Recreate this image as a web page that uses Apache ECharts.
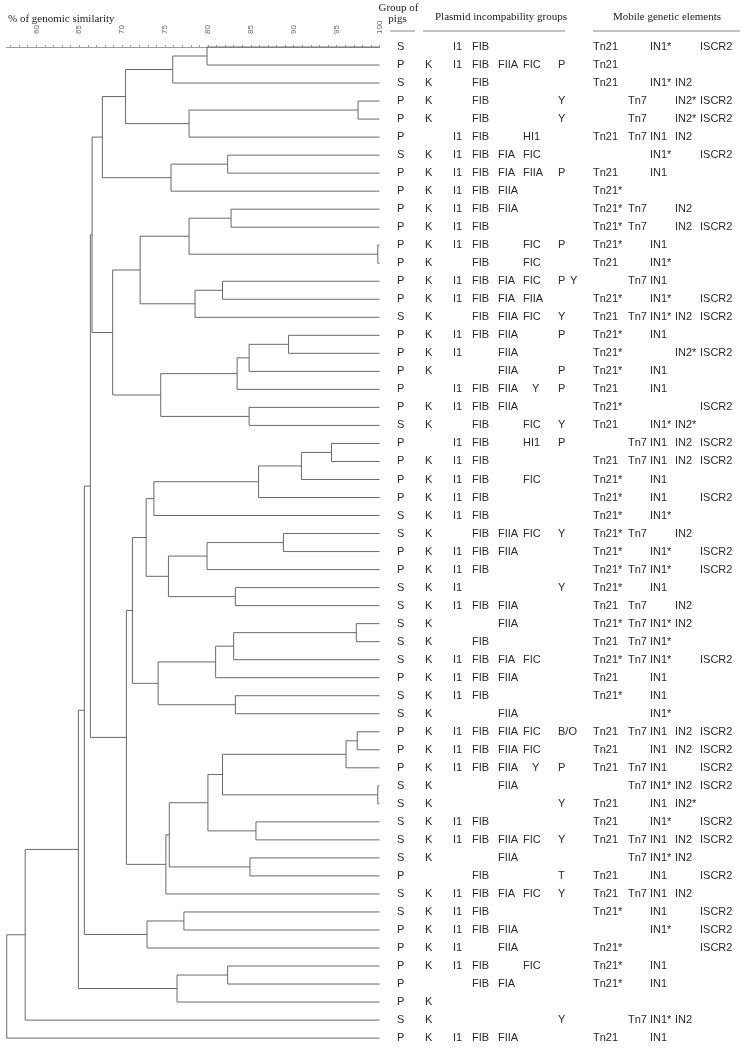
<!DOCTYPE html>
<html><head><meta charset="utf-8">
<script src="https://cdn.jsdelivr.net/npm/echarts@6/dist/echarts.min.js"></script>
<style>html,body{margin:0;padding:0;background:#fff}#c{width:747px;height:1049px}</style>
</head><body><div id="c"></div>
<script>
// ---------- DATA ----------
const pigGroup = ['S','P','S','P','P','P','S','P','P','P','P','P','P','P','P','S','P','P','P','P','P','S','P','P','P','P','S','S','P','P','S','S','S','S','S','P','S','S','P','P','P','S','S','S','S','S','P','S','S','P','P','P','P','P','S','P'];

// plasmid fields: K | I1 | FIB | F-a | F-b | F-b' | P/Y/T/B/O | Y
const plasmidRows = [
"|I1|FIB|||||","K|I1|FIB|FIIA|FIC||P|","K||FIB|||||","K||FIB||||Y|","K||FIB||||Y|",
"|I1|FIB||HI1|||","K|I1|FIB|FIA|FIC|||","K|I1|FIB|FIA|FIIA||P|","K|I1|FIB|FIIA||||","K|I1|FIB|FIIA||||",
"K|I1|FIB|||||","K|I1|FIB||FIC||P|","K||FIB||FIC|||","K|I1|FIB|FIA|FIC||P|Y","K|I1|FIB|FIA|FIIA|||",
"K||FIB|FIIA|FIC||Y|","K|I1|FIB|FIIA|||P|","K|I1||FIIA||||","K|||FIIA|||P|","|I1|FIB|FIIA||Y|P|",
"K|I1|FIB|FIIA||||","K||FIB||FIC||Y|","|I1|FIB||HI1||P|","K|I1|FIB|||||","K|I1|FIB||FIC|||",
"K|I1|FIB|||||","K|I1|FIB|||||","K||FIB|FIIA|FIC||Y|","K|I1|FIB|FIIA||||","K|I1|FIB|||||",
"K|I1|||||Y|","K|I1|FIB|FIIA||||","K|||FIIA||||","K||FIB|||||","K|I1|FIB|FIA|FIC|||",
"K|I1|FIB|FIIA||||","K|I1|FIB|||||","K|||FIIA||||","K|I1|FIB|FIIA|FIC||B/O|","K|I1|FIB|FIIA|FIC|||",
"K|I1|FIB|FIIA||Y|P|","K|||FIIA||||","K||||||Y|","K|I1|FIB|||||","K|I1|FIB|FIIA|FIC||Y|",
"K|||FIIA||||","||FIB||||T|","K|I1|FIB|FIA|FIC||Y|","K|I1|FIB|||||","K|I1|FIB|FIIA||||",
"K|I1||FIIA||||","K|I1|FIB||FIC|||","||FIB|FIA||||","K|||||||","K||||||Y|",
"K|I1|FIB|FIIA||||"
];

// mobile fields: Tn21 | Tn7 | IN1 | IN2 | ISCR2
const mobileRows = [
"Tn21||IN1*||ISCR2","Tn21||||","Tn21||IN1*|IN2|","|Tn7||IN2*|ISCR2","|Tn7||IN2*|ISCR2",
"Tn21|Tn7|IN1|IN2|","||IN1*||ISCR2","Tn21||IN1||","Tn21*||||","Tn21*|Tn7||IN2|",
"Tn21*|Tn7||IN2|ISCR2","Tn21*||IN1||","Tn21||IN1*||","|Tn7|IN1||","Tn21*||IN1*||ISCR2",
"Tn21|Tn7|IN1*|IN2|ISCR2","Tn21*||IN1||","Tn21*|||IN2*|ISCR2","Tn21*||IN1||","Tn21||IN1||",
"Tn21*||||ISCR2","Tn21||IN1*|IN2*|","|Tn7|IN1|IN2|ISCR2","Tn21|Tn7|IN1|IN2|ISCR2","Tn21*||IN1||",
"Tn21*||IN1||ISCR2","Tn21*||IN1*||","Tn21*|Tn7||IN2|","Tn21*||IN1*||ISCR2","Tn21*|Tn7|IN1*||ISCR2",
"Tn21*||IN1||","Tn21|Tn7||IN2|","Tn21*|Tn7|IN1*|IN2|","Tn21|Tn7|IN1*||","Tn21*|Tn7|IN1*||ISCR2",
"Tn21||IN1||","Tn21*||IN1||","||IN1*||","Tn21|Tn7|IN1|IN2|ISCR2","Tn21||IN1|IN2|ISCR2",
"Tn21|Tn7|IN1||ISCR2","|Tn7|IN1*|IN2|ISCR2","Tn21||IN1|IN2*|","Tn21||IN1*||ISCR2","Tn21|Tn7|IN1|IN2|ISCR2",
"|Tn7|IN1*|IN2|","Tn21||IN1||ISCR2","Tn21|Tn7|IN1|IN2|","Tn21*||IN1||ISCR2","||IN1*||ISCR2",
"Tn21*||||ISCR2","Tn21*||IN1||","Tn21*||IN1||","||||","|Tn7|IN1*|IN2|",
"Tn21||IN1||"
];

// dendrogram merges: [node, childA, childB, % similarity]; numbers = isolate rows (1-based)
const merges = [
['A',1,2,79.9],['B','A',3,75.9],['C',4,5,97.5],['D','C',6,77.8],['E','B','D',70.4],
['F',7,8,82.3],['G','F',9,75.7],['H','E','G',67.7],
['S1',10,11,82.7],['T',12,13,99.8],['Q','S1','T',77.8],['U',14,15,81.7],['R','U',16,78.5],['O','Q','R',72.1],
['Yn',17,18,89.4],['X','Yn',19,84.8],['V','X',20,83.4],['W',21,22,84.8],['P','V','W',74.5],['J','O','P',68.9],
['I','H','J',66.5],
['a1',23,24,94.4],['a2','a1',25,90.9],['a3','a2',26,85.9],['a4','a3',27,73.7],
['b1',28,29,88.8],['b2','b1',30,79.9],['b3',31,32,83.2],['Z5','b2','b3',75.4],['Z4','a4','Z5',72.8],
['c1',33,34,97.3],['c2','c1',35,83.0],['c3','c2',36,80.9],['c4',37,38,83.2],['Z6','c3','c4',74.2],['Z2','Z4','Z6',71.2],
['d1',39,40,97.4],['d2','d1',41,96.1],['d3',42,43,99.8],['d4','d2','d3',81.7],['d5',44,45,85.6],['d6','d4','d5',80.0],
['d7',46,47,84.9],['d8','d6','d7',75.5],['Z3','d8',48,75.1],['Z1','Z2','Z3',70.5],
['K','I','Z1',66.3],
['e1',49,50,77.2],['L2','e1',51,72.9],['L','K','L2',65.6],
['f1',52,53,82.3],['f2','f1',54,76.4],['M','L','f2',64.9],
['N','M',55,58.7],['root','N',56,56.55]
];

const simLabels = [60,65,70,75,80,85,90,95,100];
const simMinorTicks = [57,58,59,60,61,62,63,64,65,66,67,68,69,70,71,72,73,74,75,76,77,78,79,80,81,82,83,84,85,86,87,88,89,90,91,92,93,94,95,96,97,98,99,100];

// ---------- LAYOUT / STYLE ----------
const plasmidColX = [425,453,472,498,523,532,558,570];
const mobileColX = [593,628,650,675,700];
const groupColX = 397;
const nRows = pigGroup.length;

// ---------- BUILD ----------
const nodes = {};
function getNode(ref){ return typeof ref === 'number' ? {h:100, y:ref-1} : nodes[ref]; }
const segs = [];
merges.forEach(([name,a,b,h])=>{
  const c1 = getNode(a), c2 = getNode(b);
  nodes[name] = {h:h, y:(c1.y+c2.y)/2};
  segs.push({coords:[[c1.h,c1.y],[h,c1.y],[h,c2.y],[c2.h,c2.y]]});
});

const cellPos = [], cellText = [];
for(let r=0;r<nRows;r++){
  cellPos.push([groupColX,r]); cellText.push(pigGroup[r]);
  plasmidRows[r].split('|').forEach((t,i)=>{ if(t){ cellPos.push([plasmidColX[i],r]); cellText.push(t);} });
  mobileRows[r].split('|').forEach((t,i)=>{ if(t){ cellPos.push([mobileColX[i],r]); cellText.push(t);} });
}

const chart = echarts.init(document.getElementById('c'), null, {renderer:'canvas'});
const serif = '"Liberation Serif","Times New Roman",serif';
const sans = '"Liberation Sans",Arial,sans-serif';
const rowTop = 47, rowStep = 18.02;

chart.setOption({
  animation:false,
  backgroundColor:'#fff',
  grid:[
    {left:6.3, width:373.2, top:rowTop, height:rowStep*(nRows-1)},
    {left:0, width:747, top:rowTop, height:rowStep*(nRows-1)}
  ],
  xAxis:[
    {gridIndex:0, type:'value', position:'top', min:56.5, max:100, offset:10,
     axisLine:{show:true, lineStyle:{color:'#9a9a9a', width:1}},
     axisTick:{show:true, customValues:simMinorTicks, length:2, lineStyle:{color:'#9a9a9a'}},
     axisLabel:{show:true, customValues:simLabels, rotate:90, fontSize:8, color:'#666', margin:3, fontFamily:sans},
     splitLine:{show:false}},
    {gridIndex:1, type:'value', min:0, max:747, show:false}
  ],
  yAxis:[
    {gridIndex:0, type:'value', min:0, max:nRows-1, inverse:true, show:false},
    {gridIndex:1, type:'value', min:0, max:nRows-1, inverse:true, show:false}
  ],
  graphic:[
    {type:'text', x:8, y:19, style:{text:'% of genomic similarity', font:'11px '+serif, fill:'#222', verticalAlign:'middle'}},
    {type:'text', x:398.5, y:8, style:{text:'Group of', font:'11px '+serif, fill:'#222', align:'center', verticalAlign:'middle'}},
    {type:'text', x:397.5, y:19, style:{text:'pigs', font:'11px '+serif, fill:'#222', align:'center', verticalAlign:'middle'}},
    {type:'text', x:501, y:17, style:{text:'Plasmid incompability groups', font:'11px '+serif, fill:'#222', align:'center', verticalAlign:'middle'}},
    {type:'text', x:667, y:17, style:{text:'Mobile genetic elements', font:'11px '+serif, fill:'#222', align:'center', verticalAlign:'middle'}},
    {type:'line', shape:{x1:390,y1:31,x2:415,y2:31}, style:{stroke:'#8a8a8a', lineWidth:1}},
    {type:'line', shape:{x1:423,y1:31,x2:565,y2:31}, style:{stroke:'#8a8a8a', lineWidth:1}},
    {type:'line', shape:{x1:593,y1:31,x2:740,y2:31}, style:{stroke:'#8a8a8a', lineWidth:1}}
  ],
  series:[
    {type:'lines', coordinateSystem:'cartesian2d', xAxisIndex:0, yAxisIndex:0, polyline:true, clip:false, silent:true,
     lineStyle:{color:'#6a6a6a', width:1, opacity:1}, data:segs},
    {type:'custom', coordinateSystem:'cartesian2d', xAxisIndex:1, yAxisIndex:1, silent:true, clip:false,
     data:cellPos,
     renderItem:function(params, api){
       const p = api.coord([api.value(0), api.value(1)]);
       return {type:'text', x:p[0], y:p[1], style:{text:cellText[params.dataIndex], font:'11px '+sans, fill:'#2a2a2a', align:'left', verticalAlign:'middle'}};
     }}
  ]
});
</script></body></html>
